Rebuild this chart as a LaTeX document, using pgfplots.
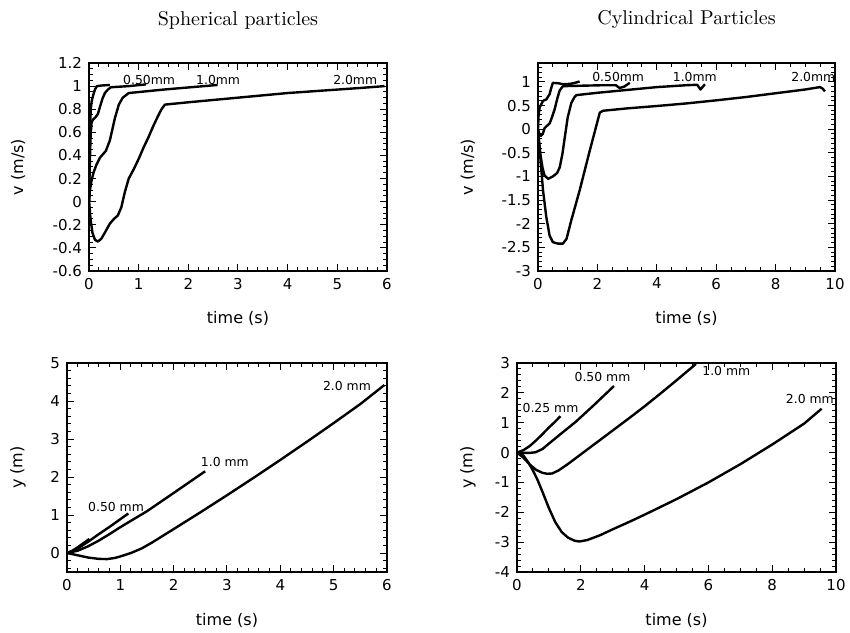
\documentclass[border=0pt]{standalone}
\usepackage{pgfplots}
\pgfplotsset{compat=1.18}
\usepackage{fontspec}
\newfontfamily\dvs{DejaVu Sans}
\newcommand\labfont{\dvs\fontsize{8}{10}\selectfont}
\pgfplotsset{
  myax/.style={
    scale only axis,
    anchor=south west,
    axis line style={line width=0.6pt, black},
    tick align=inside,
    major tick length=3.5pt,
    minor tick length=1.8pt,
    every tick/.style={black, line width=0.5pt},
    tick label style={font=\dvs\fontsize{7.5}{9}\selectfont},
    title style={font=\fontsize{10.5}{12}\selectfont},
    /pgf/number format/assume math mode=true,
    every axis plot post/.append style={black, line width=1.2pt, line join=round, mark=none},
    every axis title/.style={at={(axis description cs:0.5,1.207)}, anchor=center},
  },
}
\tikzset{lab/.style={font=\dvs\fontsize{6.2}{7}\selectfont, inner sep=0pt}}
\begin{document}
\begin{tikzpicture}
\path[use as bounding box] (0,0) rectangle (425pt,316pt);
% ---------------- top left
\begin{axis}[myax, at={(44.5pt,180.5pt)}, width=149pt, height=104pt,
  xmin=0, xmax=6, ymin=-0.6, ymax=1.2,
  xtick={0,1,2,3,4,5,6}, ytick={-0.6,-0.4,-0.2,0,0.2,0.4,0.6,0.8,1,1.2},
  minor x tick num=4, minor y tick num=3,
  title={Spherical particles}, xlabel={time (s)}, ylabel={v (m/s)},
  every axis y label/.style={at={(axis description cs:-0.238,0.5)}, rotate=90, anchor=center, font=\labfont},
  every axis x label/.style={at={(axis description cs:0.5,-0.226)}, anchor=center, font=\labfont}]
\addplot coordinates {(0,0) (0.01,0.35) (0.02,0.6) (0.035,0.8) (0.054,0.87) (0.09,0.93) (0.12,0.97) (0.16,1.0) (0.25,1.005) (0.42,1.01)};
\addplot coordinates {(0,0) (0.015,0.3) (0.03,0.55) (0.05,0.68) (0.08,0.71) (0.13,0.73) (0.18,0.76) (0.22,0.82) (0.27,0.89) (0.32,0.94) (0.38,0.97) (0.44,0.99) (0.8,1.0) (1.15,1.015)};
\addplot coordinates {(0,0) (0.015,0.09) (0.05,0.18) (0.09,0.25) (0.15,0.32) (0.22,0.38) (0.28,0.41) (0.34,0.44) (0.42,0.53) (0.52,0.72) (0.6,0.84) (0.68,0.9) (0.8,0.94) (1.5,0.97) (2.59,1.01)};
\addplot coordinates {(0,0.02) (0.03,-0.15) (0.07,-0.27) (0.12,-0.33) (0.18,-0.345) (0.25,-0.32) (0.33,-0.26) (0.42,-0.19) (0.5,-0.15) (0.58,-0.12) (0.65,-0.05) (0.72,0.08) (0.8,0.2) (0.9,0.28) (1.0,0.37) (1.1,0.47) (1.2,0.56) (1.3,0.66) (1.4,0.75) (1.46,0.8) (1.53,0.84) (2,0.86) (2.5,0.88) (3,0.9) (3.5,0.92) (4,0.94) (4.5,0.955) (5,0.97) (5.5,0.985) (5.95,1.0)};
\node[lab] at (axis cs:1.21,1.05) {0.50mm};
\node[lab] at (axis cs:2.6,1.05) {1.0mm};
\node[lab] at (axis cs:5.36,1.05) {2.0mm};
\end{axis}
% ---------------- top right
\begin{axis}[myax, at={(269pt,180.5pt)}, width=148.5pt, height=104pt,
  xmin=0, xmax=10, ymin=-3, ymax=1.4,
  xtick={0,2,4,6,8,10}, ytick={-3,-2.5,-2,-1.5,-1,-0.5,0,0.5,1},
  minor x tick num=3, minor ytick={-3,-2.9,...,1.41},
  title={Cylindrical Particles}, xlabel={time (s)}, ylabel={v (m/s)},
  every axis y label/.style={at={(axis description cs:-0.236,0.5)}, rotate=90, anchor=center, font=\labfont},
  every axis x label/.style={at={(axis description cs:0.5,-0.226)}, anchor=center, font=\labfont}]
\addplot coordinates {(0,0) (0.02,0.3) (0.056,0.46) (0.17,0.6) (0.28,0.63) (0.39,0.74) (0.45,0.88) (0.5,0.98) (0.7,0.97) (0.84,0.95) (1.1,0.96) (1.3,0.99) (1.4,1.01)};
\addplot coordinates {(0,-0.02) (0.05,-0.1) (0.1,-0.14) (0.16,-0.1) (0.22,0.02) (0.3,0.07) (0.39,0.12) (0.47,0.25) (0.56,0.42) (0.65,0.65) (0.73,0.82) (0.84,0.91) (1.5,0.92) (2.2,0.93) (2.62,0.93) (2.75,0.87) (2.9,0.9) (3.09,0.98)};
\addplot coordinates {(0,0) (0.03,-0.25) (0.08,-0.53) (0.15,-0.81) (0.22,-0.98) (0.34,-1.05) (0.5,-1.0) (0.64,-0.93) (0.73,-0.81) (0.82,-0.53) (0.9,-0.18) (1.0,0.25) (1.12,0.55) (1.22,0.67) (1.29,0.72) (2,0.77) (3,0.83) (4,0.89) (5,0.93) (5.36,0.94) (5.47,0.84) (5.62,0.95)};
\addplot coordinates {(0,0) (0.06,-0.46) (0.17,-1.3) (0.28,-1.86) (0.39,-2.25) (0.5,-2.39) (0.67,-2.42) (0.84,-2.42) (0.96,-2.32) (1.12,-1.93) (1.4,-1.3) (1.74,-0.46) (2.08,0.35) (2.19,0.39) (3,0.44) (4,0.49) (5,0.545) (6,0.61) (7,0.68) (8,0.76) (9,0.84) (9.49,0.89) (9.58,0.86) (9.66,0.8)};
\node[lab] at (axis cs:2.7,1.1) {0.50mm};
\node[lab] at (axis cs:5.28,1.1) {1.0mm};
\node[lab] at (axis cs:9.27,1.1) {2.0mm};
\end{axis}
% ---------------- bottom left
\begin{axis}[myax, at={(33.5pt,30pt)}, width=160pt, height=104.5pt,
  xmin=0, xmax=6, ymin=-0.5, ymax=5,
  xtick={0,1,2,3,4,5,6}, ytick={0,1,2,3,4,5},
  minor x tick num=4, minor ytick={-0.4,-0.2,...,5.01},
  xlabel={time (s)}, ylabel={y (m)},
  every axis y label/.style={at={(axis description cs:-0.153,0.5)}, rotate=90, anchor=center, font=\labfont},
  every axis x label/.style={at={(axis description cs:0.5,-0.23)}, anchor=center, font=\labfont}]
\addplot coordinates {(0,0) (0.1,0.06) (0.2,0.15) (0.3,0.25) (0.42,0.37)};
\addplot coordinates {(0,0) (0.1,0.05) (0.2,0.12) (0.4,0.3) (0.6,0.5) (0.8,0.69) (1.0,0.89) (1.15,1.04)};
\addplot coordinates {(0,0) (0.2,0.06) (0.4,0.18) (0.6,0.33) (0.8,0.5) (1.0,0.68) (1.5,1.1) (2.0,1.58) (2.59,2.15)};
\addplot coordinates {(0,0) (0.2,-0.06) (0.4,-0.12) (0.6,-0.155) (0.75,-0.16) (0.9,-0.13) (1.0,-0.09) (1.2,0.0) (1.4,0.12) (1.6,0.28) (2.0,0.63) (2.5,1.07) (3,1.52) (3.5,1.98) (4,2.45) (4.5,2.93) (5,3.42) (5.5,3.92) (5.95,4.42)};
\node[lab] at (axis cs:0.92,1.2) {0.50 mm};
\node[lab] at (axis cs:2.96,2.39) {1.0 mm};
\node[lab] at (axis cs:5.25,4.4) {2.0 mm};
\end{axis}
% ---------------- bottom right
\begin{axis}[myax, at={(258.5pt,30pt)}, width=159.5pt, height=104.5pt,
  xmin=0, xmax=10, ymin=-4, ymax=3,
  xtick={0,2,4,6,8,10}, ytick={-4,-3,-2,-1,0,1,2,3},
  minor x tick num=3, minor y tick num=4,
  xlabel={time (s)}, ylabel={y (m)},
  every axis y label/.style={at={(axis description cs:-0.154,0.5)}, rotate=90, anchor=center, font=\labfont},
  every axis x label/.style={at={(axis description cs:0.5,-0.23)}, anchor=center, font=\labfont}]
\addplot coordinates {(0,0) (0.2,0.08) (0.4,0.22) (0.6,0.41) (0.8,0.62) (1.0,0.84) (1.2,1.04) (1.36,1.22)};
\addplot coordinates {(0,0) (0.2,-0.01) (0.4,-0.01) (0.58,0.01) (0.8,0.12) (1.0,0.3) (1.4,0.65) (1.84,1.03) (2.4,1.58) (3.04,2.23)};
\addplot coordinates {(0,0) (0.2,-0.17) (0.4,-0.4) (0.6,-0.58) (0.8,-0.68) (0.95,-0.71) (1.1,-0.7) (1.3,-0.6) (1.6,-0.38) (2,-0.06) (2.5,0.34) (3,0.74) (3.5,1.14) (4,1.55) (4.5,1.98) (5,2.42) (5.61,2.97)};
\addplot coordinates {(0,0) (0.2,-0.1) (0.35,-0.32) (0.5,-0.6) (0.65,-0.93) (0.8,-1.32) (1.0,-1.86) (1.2,-2.33) (1.4,-2.66) (1.6,-2.85) (1.8,-2.95) (1.95,-2.98) (2.2,-2.93) (2.6,-2.77) (3,-2.57) (3.5,-2.33) (4,-2.08) (5,-1.56) (6,-1.0) (7,-0.39) (8,0.27) (9,0.97) (9.55,1.47)};
\node[lab] at (axis cs:1.05,1.51) {0.25 mm};
\node[lab] at (axis cs:2.68,2.52) {0.50 mm};
\node[lab] at (axis cs:6.56,2.72) {1.0 mm};
\node[lab] at (axis cs:9.18,1.81) {2.0 mm};
\end{axis}
\end{tikzpicture}
\end{document}
